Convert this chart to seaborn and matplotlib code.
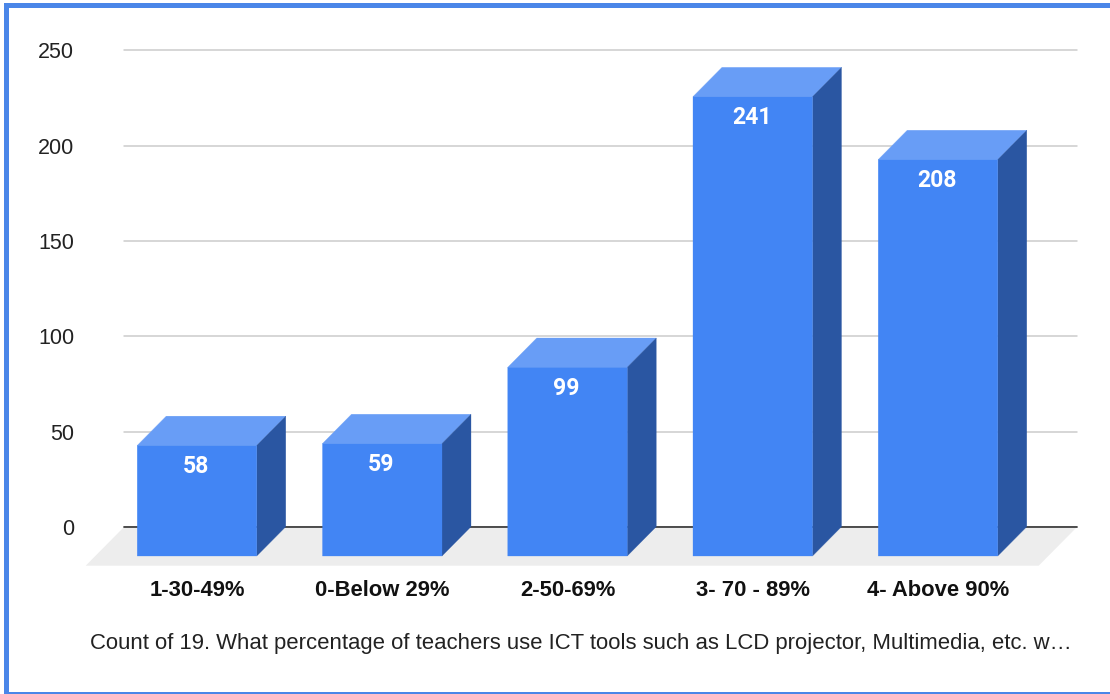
import matplotlib
matplotlib.use("Agg")
import matplotlib.pyplot as plt
from matplotlib.patches import Polygon, Rectangle
from matplotlib.transforms import Affine2D
import seaborn as sns

categories = ['1-30-49%', '0-Below 29%', '2-50-69%', '3- 70 - 89%', '4- Above 90%']
counts = [58, 59, 99, 241, 208]
y_ticks = [0, 50, 100, 150, 200, 250]
caption = 'Count of 19. What percentage of teachers use ICT tools such as LCD projector, Multimedia, etc. w\u2026'

W, H = 1110, 694

front_col = '#4285F4'
top_col = '#689DF6'
side_col = '#2A56A2'
floor_col = '#EDEDED'
frame_col = '#4A86E8'

sns.set_theme(style="whitegrid", rc={"grid.color": "#CCCCCC", "grid.linewidth": 1.1})
plt.rcParams["font.family"] = ["Liberation Sans", "DejaVu Sans"]

fig = plt.figure(figsize=(W / 100, H / 100), dpi=100)
# plot area in pixels: x 124-1077, y 50.5-527
ax = fig.add_axes([124 / W, 1 - 527 / H, 953 / W, 476.5 / H])

sns.barplot(x=categories, y=counts, color=front_col, saturation=1, width=119.5 / 185.25,
            linewidth=0, ax=ax, zorder=5)

ax.set_ylim(0, 250)
ax.set_xlim((124 - 197) / 185.25, (1077 - 197) / 185.25)
ax.set_yticks(y_ticks)
ax.grid(axis='x', visible=False)
ax.set_axisbelow(True)
ax.tick_params(axis='y', length=0, pad=36, labelsize=15.5, labelcolor='#222222')
ax.tick_params(axis='x', length=0, pad=38)
for lab in ax.get_xticklabels():
    lab.set_fontsize(15.8)
    lab.set_fontweight('bold')
    lab.set_color('#111111')
# the top gridline sits right on the axes edge and gets clipped otherwise
for line in ax.get_ygridlines():
    line.set_clip_on(False)
sns.despine(ax=ax, left=True, bottom=True)

# floor of the 3d box, sits under the bars
floor_dx = 38.3 / 953
floor_dy = 38.7 / 476.5
ax.add_patch(Polygon([(0, 0), (1, 0), (1 - floor_dx, -floor_dy), (-floor_dx, -floor_dy)],
                     transform=ax.transAxes, facecolor=floor_col, edgecolor='none',
                     clip_on=False, zorder=1))
ax.axhline(0, color='#333333', lw=1.2, zorder=2, clip_on=False)

# bars are pushed down in pixels so the back of the box lands on the axis
shift = Affine2D().translate(0, -29)
front_trans = ax.transData + shift
depth_x = 29 / 185.25
depth_y = 29.3 / (476.5 / 250)

for patch, val in zip(list(ax.patches), counts):
    if not isinstance(patch, Rectangle):
        continue
    x0 = patch.get_x()
    x1 = x0 + patch.get_width()
    patch.set_transform(front_trans)
    patch.set_clip_on(False)
    patch.set_snap(False)
    patch.set_edgecolor(front_col)
    patch.set_linewidth(0.2)
    ax.add_patch(Polygon([(x0, val), (x1, val), (x1 + depth_x, val + depth_y), (x0 + depth_x, val + depth_y)],
                         transform=front_trans, facecolor=top_col, edgecolor=top_col, lw=0.2,
                         clip_on=False, zorder=4))
    ax.add_patch(Polygon([(x1, 0), (x1 + depth_x, depth_y), (x1 + depth_x, val + depth_y), (x1, val)],
                         transform=front_trans, facecolor=side_col, edgecolor=side_col, lw=0.2,
                         clip_on=False, zorder=4))
    ax.annotate(str(val), xy=((x0 + x1) / 2, val), xycoords=front_trans, xytext=(-1, -21),
                textcoords='offset pixels', ha='center', va='center', color='white',
                fontsize=16.6, fontweight='bold', family='Roboto', zorder=6)

fig.text(90 / W, 1 - 644 / H, caption, ha='left', va='center', fontsize=15.97, color='#222222')

# blue frame of the screenshot
for x, y, w, h in [(4, 3, W - 4, 5), (4, 3, 5, H - 3), (4, H - 2, W - 4, 2)]:
    fig.add_artist(Rectangle((x / W, 1 - (y + h) / H), w / W, h / H, transform=fig.transFigure,
                             facecolor=frame_col, edgecolor='none'))

fig.savefig('out.png', dpi=100)
